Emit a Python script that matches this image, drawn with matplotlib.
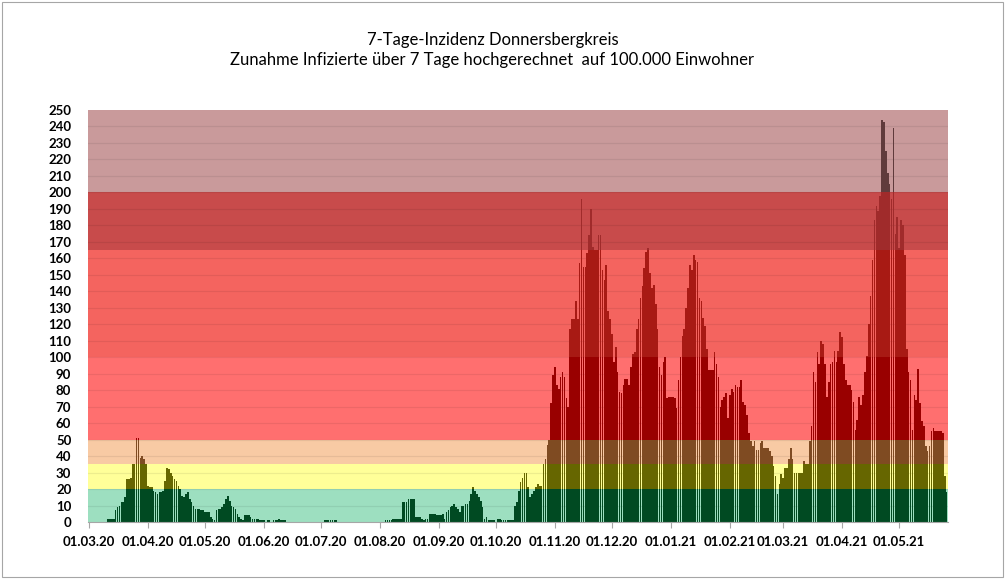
import numpy as np
import pandas as pd
import matplotlib
matplotlib.use("Agg")
import matplotlib.pyplot as plt
from matplotlib.patches import Rectangle

# 7-day incidence per 100k, one value per day, month by month
inc_2020_03 = [0, 0, 0, 0, 0, 0, 0, 0, 0, 0, 2, 2, 2, 2, 7, 9, 10, 12, 12, 15,
               26, 26, 27, 35, 35, 51, 51, 39, 40, 38, 35]
inc_2020_04 = [22, 21, 21, 19, 18, 17, 18, 18, 19, 25, 33, 32, 30, 28, 26, 25, 22, 20, 16, 15,
               17, 18, 14, 12, 10, 8, 8, 8, 7, 7]
inc_2020_05 = [6, 6, 6, 3, 2, 1, 7, 8, 8, 9, 11, 14, 16, 13, 10, 9, 8, 5, 3, 2,
               1, 4, 4, 4, 3, 2, 2, 2, 2, 1, 1]
inc_2020_06 = [1, 0, 1, 1, 0, 1, 1, 1, 2, 1, 1, 1, 0, 0, 0, 0, 0, 0, 0, 0,
               0, 0, 0, 0, 0, 0, 0, 0, 0, 0]
inc_2020_07 = [0, 0, 1, 1, 1, 1, 1, 1, 1, 0, 0, 0, 0, 0, 0, 0, 0, 0, 0, 0,
               0, 0, 0, 0, 0, 0, 0, 0, 0, 0, 0]
inc_2020_08 = [0, 0, 0, 1, 1, 1, 1, 2, 2, 2, 2, 2, 12, 12, 12, 14, 14, 14, 14, 3,
               3, 3, 2, 1, 2, 2, 5, 5, 5, 5, 4]
inc_2020_09 = [4, 4, 5, 2, 6, 7, 9, 10, 11, 9, 8, 6, 10, 10, 11, 11, 13, 17, 21, 19,
               17, 15, 13, 9, 2, 3, 1, 1, 1, 1]
inc_2020_10 = [0, 2, 2, 1, 1, 1, 1, 1, 1, 1, 10, 12, 19, 24, 27, 30, 30, 21, 15, 17,
               19, 21, 23, 22, 22, 35, 38, 47, 50, 72, 89]
inc_2020_11 = [94, 83, 81, 88, 91, 88, 75, 70, 117, 123, 123, 134, 123, 157, 196, 155, 155, 163, 174, 190,
               167, 165, 165, 174, 174, 153, 147, 156, 128, 123]
inc_2020_12 = [114, 97, 106, 91, 79, 78, 83, 87, 87, 83, 94, 102, 103, 117, 123, 136, 143, 154, 164, 166,
               151, 142, 144, 132, 117, 94, 89, 97, 100, 75, 76]
inc_2021_01 = [76, 76, 75, 69, 86, 100, 113, 117, 130, 142, 156, 153, 162, 159, 158, 136, 134, 124, 119, 105,
               92, 92, 92, 103, 96, 88, 70, 74, 76, 78, 63]
inc_2021_02 = [77, 81, 79, 83, 82, 82, 86, 73, 71, 65, 54, 49, 46, 49, 44, 44, 48, 49, 45, 45,
               45, 43, 40, 34, 28, 17, 23, 29]
inc_2021_03 = [27, 33, 33, 38, 45, 38, 30, 30, 30, 30, 30, 37, 35, 35, 49, 58, 91, 85, 103, 96,
               110, 108, 96, 76, 85, 96, 97, 104, 97, 104, 115]
inc_2021_04 = [112, 96, 86, 83, 83, 80, 73, 56, 62, 76, 71, 77, 91, 101, 120, 137, 159, 183, 192, 189,
               198, 244, 243, 225, 212, 205, 196, 239, 175, 185]
inc_2021_05 = [166, 183, 180, 162, 105, 91, 86, 56, 77, 74, 93, 72, 61, 58, 46, 43, 46, 55, 57, 55,
               55, 55, 55, 54, 28, 18]

# risk bands: limits, background colour, colour of the bar part inside the band
band_limits = [0, 20, 35, 50, 100, 165, 200, 250]
band_colors = ["#9DDFC0", "#FFFF99", "#F8CAA4", "#FF6F6F", "#F4645F", "#C84B4B", "#C99A9B"]
bar_colors = ["#004A22", "#666600", "#7F4B22", "#990000", "#A81A14", "#A02B2B", "#603B3C"]

title = "7-Tage-Inzidenz Donnersbergkreis\nZunahme Infizierte über 7 Tage hochgerechnet  auf 100.000 Einwohner"

values = np.array(inc_2020_03 + inc_2020_04 + inc_2020_05 + inc_2020_06 + inc_2020_07
                  + inc_2020_08 + inc_2020_09 + inc_2020_10 + inc_2020_11 + inc_2020_12
                  + inc_2021_01 + inc_2021_02 + inc_2021_03 + inc_2021_04 + inc_2021_05, dtype=float)
dates = pd.date_range("2020-03-01", periods=len(values), freq="D")
days = np.arange(len(values))

plt.rcParams["font.family"] = ["Lato", "DejaVu Sans"]

fig = plt.figure(figsize=(10.05, 5.79), dpi=100)
ax = fig.add_axes([0.0876, 0.0984, 0.8557, 0.7116])

# background bands
for i in range(len(band_colors)):
    ax.axhspan(band_limits[i], band_limits[i + 1], color=band_colors[i], lw=0, zorder=0)

# grid lines every 10
for yv in range(10, 250, 10):
    ax.axhline(yv, color="black", alpha=0.07, lw=0.9, zorder=1)

# bars split into the bands, each part coloured by its band
for i in range(len(bar_colors)):
    lo, hi = band_limits[i], band_limits[i + 1]
    part = np.clip(values, lo, hi) - lo
    mask = part > 0
    ax.bar(days[mask], part[mask], bottom=lo, width=0.85, color=bar_colors[i],
           linewidth=0, zorder=2)

ax.set_xlim(-0.5, len(values) - 0.3)
ax.set_ylim(0, 250)
ax.set_yticks(range(0, 251, 10))
ax.set_yticklabels([str(v) for v in range(0, 251, 10)], fontsize=9.5, fontweight="bold")

month_pos = days[dates.day == 1]
ax.set_xticks(month_pos)
ax.set_xticklabels([d.strftime("%d.%m.%y") for d in dates[dates.day == 1]],
                   fontsize=9.5, fontweight="bold")

ax.tick_params(axis="y", length=0, pad=12)
ax.tick_params(axis="x", length=4, color="#A6A6A6", pad=6)
for s in ["top", "right", "left"]:
    ax.spines[s].set_visible(False)
ax.spines["bottom"].set_color("#A6A6A6")

fig.text(0.49, 0.945, title, ha="center", va="top", fontsize=12, linespacing=1.35)

# chart border
fig.patches.append(Rectangle((0.002, 0.003), 0.996, 0.994, transform=fig.transFigure,
                             fill=False, edgecolor="#A6A6A6", lw=0.8))

fig.savefig("out.png", dpi=100)
